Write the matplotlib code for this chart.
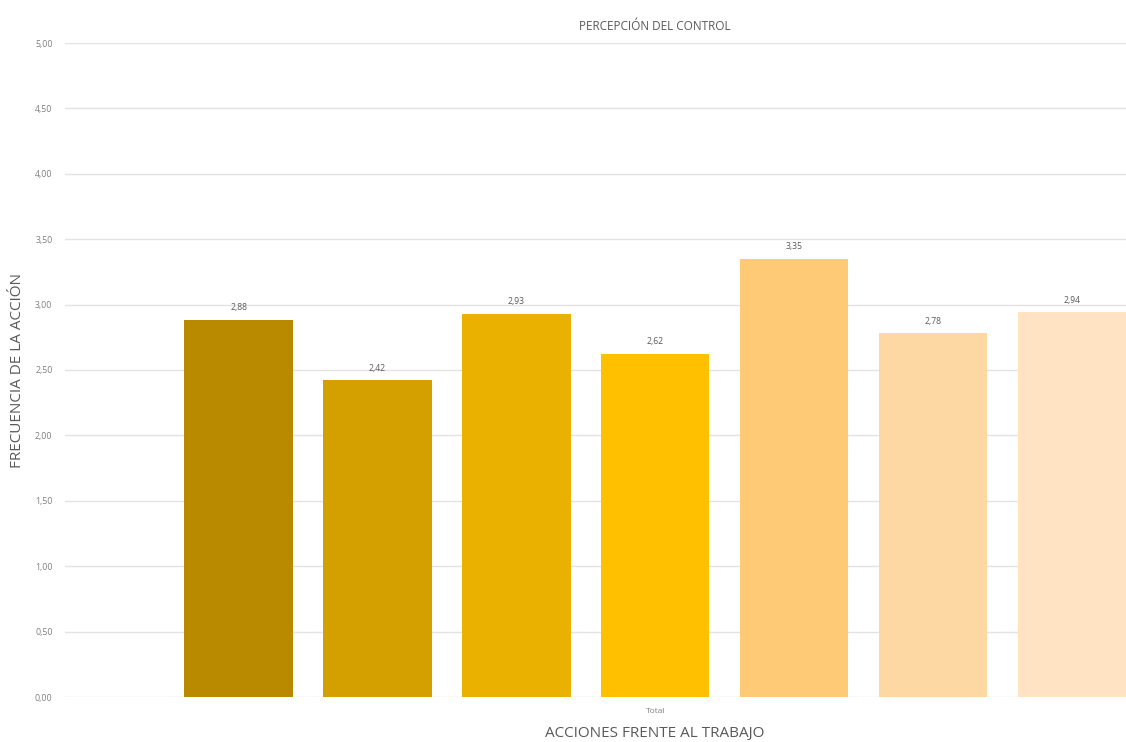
import matplotlib
matplotlib.use("Agg")
import matplotlib.pyplot as plt
from matplotlib.ticker import FuncFormatter, MultipleLocator

categories = ["Total"]
series_values = [2.88, 2.42, 2.93, 2.62, 3.35, 2.78, 2.94]
bar_colors = ["#B98A00", "#D3A000", "#EAB100", "#FFC000", "#FECA76", "#FED8A2", "#FFE3C2"]
title = "PERCEPCIÓN DEL CONTROL"
xlabel = "ACCIONES FRENTE AL TRABAJO"
ylabel = "FRECUENCIA DE LA ACCIÓN"

plt.rcParams['font.family'] = ['Open Sans', 'DejaVu Sans']

W, H = 1126, 742
fig = plt.figure(figsize=(W / 100, H / 100), dpi=100)
ax = fig.add_axes([65 / W, 45 / H, (1126 - 65) / W, 654 / H])

xs = list(range(len(series_values)))
bars = ax.bar(xs, series_values, width=0.78, color=bar_colors, zorder=3)
for x, v in zip(xs, series_values):
    ax.text(x, v + 0.06, f"{v:.2f}".replace(".", ","), ha="center", va="bottom",
            fontsize=6.2, color="#595959", zorder=4)

ax.set_ylim(0, 5)
ax.set_xlim(-1.25, 6.39)
ax.yaxis.set_major_locator(MultipleLocator(0.5))
ax.yaxis.set_major_formatter(FuncFormatter(lambda v, p: f"{v:.2f}".replace(".", ",")))
ax.grid(axis="y", color="#E3E3E3", linewidth=1, zorder=0)
for s in ax.spines.values():
    s.set_visible(False)
ax.tick_params(axis="y", length=0, labelsize=6.3, labelcolor="#7F7F7F", pad=9)
center = (len(series_values) - 1) / 2
ax.set_xticks([center])
ax.set_xticklabels(categories)
ax.tick_params(axis="x", length=0, labelsize=6, labelcolor="#7F7F7F", pad=8)

fig.text(655 / W, 1 - 27 / H, title, ha="center", va="center", fontsize=8.5, color="#595959")
fig.text(655 / W, 1 - 733 / H, xlabel, ha="center", va="center", fontsize=11, color="#595959")
fig.text(18 / W, 1 - 371 / H, ylabel, ha="center", va="center", rotation=90, fontsize=11, color="#595959")

fig.savefig("out.png", dpi=100, facecolor="white")
